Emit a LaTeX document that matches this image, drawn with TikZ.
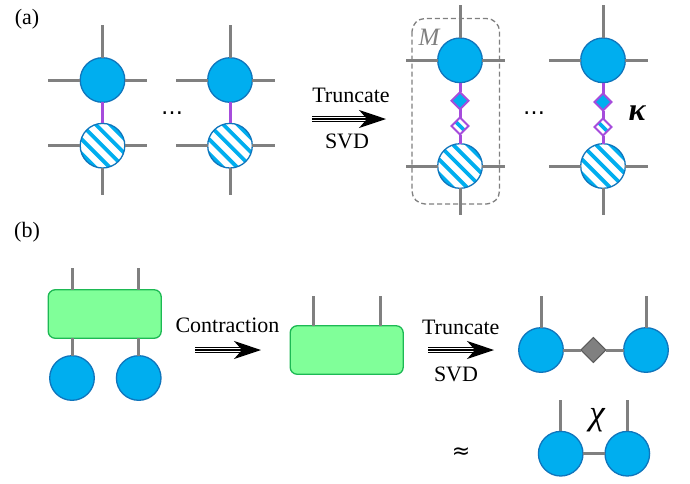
\documentclass[tikz,border=0pt]{standalone}
\usepackage{fontspec}
\setmainfont{Liberation Serif}
\newfontfamily\symfont{DejaVu Sans}
\usetikzlibrary{arrows.meta,shapes.geometric}
\definecolor{tblue}{HTML}{00AEEF}
\definecolor{tedge}{HTML}{0F75BC}
\definecolor{tgreen}{HTML}{80FF99}
\definecolor{tgreenedge}{HTML}{1DB954}
\definecolor{tgray}{HTML}{808080}
\definecolor{tpurple}{HTML}{A64CDC}
\tikzset{
  leg/.style={draw=tgray,line width=3pt},
  bond/.style={draw=tpurple,line width=3pt},
  solidsite/.style={circle,draw=tedge,line width=1.3pt,fill=tblue,minimum size=44.6pt,inner sep=0pt,outer sep=0pt},
  stripes/.style={path picture={
    \foreach \d in {-21.6,-14.4,...,21.7}{
      \draw[tblue,line width=#1] ([shift={(\d pt-30pt,\d pt+30pt)}]path picture bounding box.center)
        -- ([shift={(\d pt+30pt,\d pt-30pt)}]path picture bounding box.center);
    }}},
  hatchsite/.style={circle,draw=tedge,line width=1.3pt,fill=white,minimum size=44.6pt,inner sep=0pt,outer sep=0pt,stripes=3.8pt},
  sdiam/.style={diamond,aspect=1,draw=tpurple,line width=2pt,fill=tblue,minimum size=17pt,inner sep=0pt,outer sep=0pt},
  hdiam/.style={diamond,aspect=1,draw=tpurple,line width=2pt,fill=white,minimum size=17pt,inner sep=0pt,outer sep=0pt,
    path picture={
      \draw[tblue,line width=3.6pt] ([shift={(-5pt,5pt)}]path picture bounding box.center) -- ([shift={(5pt,-5pt)}]path picture bounding box.center);
    }},
  gdiam/.style={diamond,aspect=1,draw=tgray!70!black,line width=1pt,fill=tgray,minimum size=25pt,inner sep=0pt,outer sep=0pt},
  tensor/.style={rectangle,rounded corners=7pt,draw=tgreenedge,line width=1.3pt,fill=tgreen,minimum width=113pt,minimum height=48.5pt,inner sep=0pt,outer sep=0pt},
  lab/.style={inner sep=0pt,font=\fontsize{22}{22}\selectfont},
  tag/.style={inner sep=0pt,font=\fontsize{22}{22}\selectfont},
  shaft/.style={line width=1.2pt},
  tip/.style={-{Stealth[length=27pt,width=18pt,inset=8pt]},line width=1.2pt},
}
% two-tensor column: #1 name, #2 x, #3 upper y, #4 lower y
\newcommand{\column}[4]{%
  \node[solidsite] (#1u) at (#2,#3) {};
  \node[hatchsite] (#1d) at (#2,#4) {};
  \coordinate (#1ut) at (#2,#3-55);
  \coordinate (#1ul) at (#2-54.5,#3);
  \coordinate (#1ur) at (#2+44.5,#3);
  \coordinate (#1dl) at (#2-54.5,#4);
  \coordinate (#1dr) at (#2+44.5,#4);
  \coordinate (#1db) at (#2,#4+49);
  \draw[leg] (#1u) -- (#1ut);
  \draw[leg] (#1u) -- (#1ul);
  \draw[leg] (#1u) -- (#1ur);
  \draw[leg] (#1d) -- (#1dl);
  \draw[leg] (#1d) -- (#1dr);
  \draw[leg] (#1d) -- (#1db);
}
% triple arrow: #1 name, #2 x start, #3 x end, #4 y
\newcommand{\triplearrow}[4]{%
  \coordinate (#1s) at (#2,#4);
  \coordinate (#1e) at (#3,#4);
  \draw[shaft] ([yshift=-2.7pt]#1s) -- ([yshift=-2.7pt,xshift=-12pt]#1e);
  \draw[shaft] ([yshift=2.7pt]#1s) -- ([yshift=2.7pt,xshift=-12pt]#1e);
  \draw[tip] (#1s) -- (#1e);
}
\begin{document}
\begin{tikzpicture}[x=1pt,y=-1pt]
\useasboundingbox (0,0) rectangle (690,483);
\fill[white] (0,0) rectangle (690,483);
\node[tag] (la) at (27,19) {(a)};
\node[tag] (lb) at (27,232) {(b)};

% panel (a), left
\column{A}{102.5}{80}{145.7}
\draw[bond] (Au) -- (Ad);
\column{B}{230}{80}{145.7}
\draw[bond] (Bu) -- (Bd);
\node[lab] (dots1) at (172,113) {\symfont…};

\node[lab] (t1) at (351,95) {Truncate};
\triplearrow{ar1}{312}{386}{119}
\node[lab] (s1) at (347,141.5) {SVD};

% panel (a), right
\draw[tgray,line width=1.3pt,dash pattern=on 5pt off 3pt,rounded corners=13pt] (412,18.5) rectangle (499.5,204);
\column{C}{460}{60.3}{166}
\node[sdiam] (Cm1) at (460,100.7) {};
\node[hdiam] (Cm2) at (460,126) {};
\draw[bond] (Cu) -- (Cm1);
\draw[bond] (Cm1) -- (Cm2);
\draw[bond] (Cm2) -- (Cd);
\node[inner sep=0pt,text=tgray,font=\fontsize{25}{25}\selectfont\itshape] (M) at (429,37) {M};
\node[lab] (dots2) at (534,113) {\symfont…};
\column{D}{603}{60.3}{166}
\node[sdiam] (Dm1) at (603,102) {};
\node[hdiam] (Dm2) at (603,127) {};
\draw[bond] (Du) -- (Dm1);
\draw[bond] (Dm1) -- (Dm2);
\draw[bond] (Dm2) -- (Dd);
\node[inner sep=0pt,font=\fontsize{32}{32}\selectfont\bfseries\itshape] (kappa) at (637,113) {κ};

% panel (b), first
\node[tensor] (R1) at (104.7,314) {};
\node[solidsite] (E1) at (72,378) {};
\node[solidsite] (E2) at (138.7,378) {};
\coordinate (R1a) at (72,268);
\coordinate (R1b) at (138.7,268);
\draw[leg] (R1a) -- (R1a|-R1.north);
\draw[leg] (R1b) -- (R1b|-R1.north);
\draw[leg] (E1) -- (E1|-R1.south);
\draw[leg] (E2) -- (E2|-R1.south);

\node[lab] (con) at (227.5,325) {Contraction};
\triplearrow{ar2}{195}{261}{350}

% panel (b), second
\node[tensor] (R2) at (346.7,350) {};
\coordinate (R2a) at (313.7,296);
\coordinate (R2b) at (380.3,296);
\draw[leg] (R2a) -- (R2a|-R2.north);
\draw[leg] (R2b) -- (R2b|-R2.north);

\node[lab] (t2) at (460.7,327) {Truncate};
\triplearrow{ar3}{428}{494}{350}
\node[lab] (s2) at (456,374) {SVD};

% panel (b), third
\node[solidsite] (F1) at (541,350) {};
\node[solidsite] (F2) at (646,350) {};
\node[gdiam] (Fm) at (593.3,350) {};
\coordinate (F1t) at (541,296);
\coordinate (F2t) at (646,296);
\draw[leg] (F1) -- (F1t);
\draw[leg] (F2) -- (F2t);
\draw[leg] (F1) -- (Fm);
\draw[leg] (Fm) -- (F2);

% panel (b), fourth
\node[lab] (approx) at (461,453) {\symfont ≈};
\node[solidsite] (G1) at (560.7,453.7) {};
\node[solidsite] (G2) at (627.3,453.7) {};
\coordinate (G1t) at (560.7,400);
\coordinate (G2t) at (627.3,400);
\draw[leg] (G1) -- (G1t);
\draw[leg] (G2) -- (G2t);
\draw[leg] (G1) -- (G2);
\node[inner sep=0pt,font=\fontsize{35}{35}\selectfont\itshape] (chi) at (597,420) {χ};
\end{tikzpicture}
\end{document}
